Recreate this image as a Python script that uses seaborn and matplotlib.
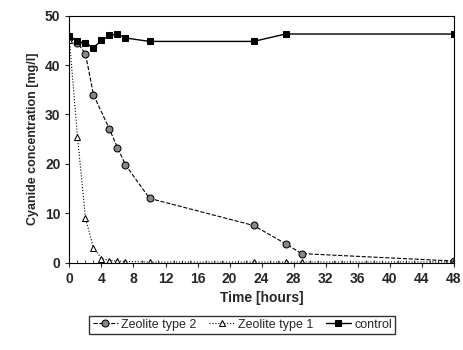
import matplotlib.pyplot as plt
import seaborn as sns
import pandas as pd

# Sampling times (hours)
time_h = [0, 1, 2, 3, 4, 5, 6, 7, 10, 23, 27, 29, 48]

# Cyanide concentration (mg/l)
zeolite2 = [45.5, 44.5, 42.3, 34.0, None, 27.0, 23.3, 19.8, 13.0, 7.5, 3.8, 1.8, 0.3]
zeolite1 = [45.0, 25.5, 9.0, 3.0, 0.8, 0.4, 0.3, 0.2, 0.1, 0.1, 0.1, 0.1, 0.1]
control = [45.8, 44.8, 44.5, 43.5, 45.0, 46.0, 46.3, 45.5, 44.8, 44.8, 46.3, None, 46.3]

series_names = ["Zeolite type 2", "Zeolite type 1", "control"]

df = pd.DataFrame({
    "Time": time_h,
    "Zeolite type 2": zeolite2,
    "Zeolite type 1": zeolite1,
    "control": control,
})
df_long = df.melt(id_vars="Time", var_name="Series", value_name="Conc").dropna()

sns.set_style("ticks")
plt.rcParams["font.family"] = ["Liberation Sans", "DejaVu Sans"]

fig, ax = plt.subplots(figsize=(4.63, 3.5), dpi=100)

styles = {
    "Zeolite type 2": dict(marker="o", linestyle="--", ms=5, mfc="#888888", mec="black", lw=0.8),
    "Zeolite type 1": dict(marker="^", linestyle=":", ms=4, mfc="white", mec="black", lw=0.8),
    "control": dict(marker="s", linestyle="-", ms=5, mfc="black", mec="black", lw=1.0),
}

for name in series_names:
    sub = df_long[df_long["Series"] == name]
    st = styles[name]
    sns.lineplot(data=sub, x="Time", y="Conc", ax=ax, color="black",
                 marker=st["marker"], linestyle=st["linestyle"], markersize=st["ms"],
                 markerfacecolor=st["mfc"], markeredgecolor=st["mec"],
                 linewidth=st["lw"], label=name)

ax.set_xlim(0, 48)
ax.set_ylim(0, 50)
ax.set_xticks(range(0, 49, 4))
ax.set_yticks(range(0, 51, 10))
ax.set_xticks(range(0, 49, 1), minor=True)
ax.tick_params(axis="both", labelsize=10, direction="out", length=3, width=0.8)
ax.tick_params(axis="x", which="minor", length=2, direction="in")
for lab in ax.get_xticklabels() + ax.get_yticklabels():
    lab.set_fontweight("bold")
for sp in ax.spines.values():
    sp.set_linewidth(0.8)
    sp.set_color("black")

ax.set_xlabel("Time [hours]", fontsize=10, fontweight="bold")
ax.set_ylabel("Cyanide concentration [mg/l]", fontsize=9, fontweight="bold")

ax.legend(loc="upper center", bbox_to_anchor=(0.45, -0.19), ncol=3, frameon=True,
          fancybox=False, edgecolor="black", fontsize=9, handlelength=2.0,
          columnspacing=1.0, handletextpad=0.3, borderpad=0.25)

fig.subplots_adjust(left=0.15, right=0.98, bottom=0.25, top=0.955)
fig.savefig("out.png", dpi=100)
